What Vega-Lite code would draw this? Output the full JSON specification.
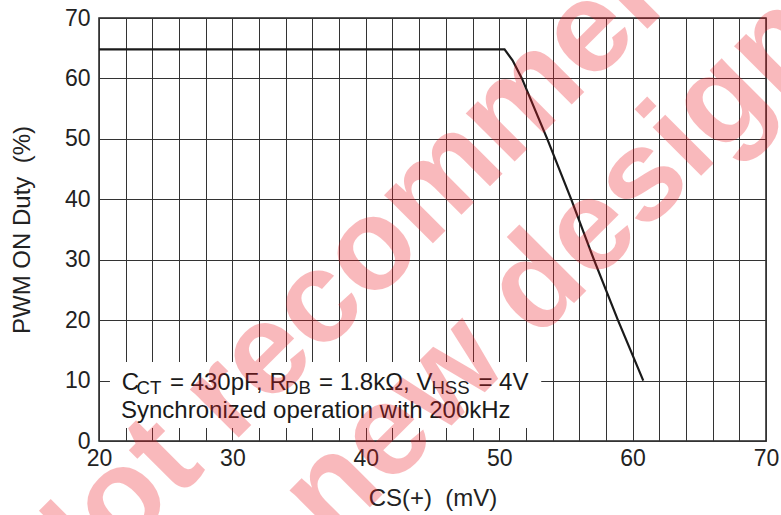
{
  "$schema": "https://vega.github.io/schema/vega-lite/v6.json",
  "width": 667,
  "height": 423,
  "autosize": {"type": "none"},
  "padding": {"left": 99, "top": 18, "right": 15, "bottom": 74},
  "background": "white",
  "config": {
    "font": "Liberation Sans",
    "view": {"stroke": "#222", "strokeWidth": 1.5}
  },
  "datasets": {
    "curve": [
      {"cs": 20, "duty": 64.8},
      {"cs": 50.4, "duty": 64.8},
      {"cs": 51.0, "duty": 63.0},
      {"cs": 51.7, "duty": 60},
      {"cs": 53.6, "duty": 50},
      {"cs": 55.4, "duty": 40},
      {"cs": 57.1, "duty": 30},
      {"cs": 58.9, "duty": 20},
      {"cs": 60.8, "duty": 10}
    ],
    "box": [{"x1": 20.82, "x2": 53.15, "y1": 2.15, "y2": 13.08}],
    "note": [
      {"t": "C", "x": 21.7, "y": 8.44, "part": "main"},
      {"t": "CT", "x": 22.82, "y": 7.86, "part": "sub"},
      {"t": "= 430pF, R", "x": 25.32, "y": 8.44, "part": "main"},
      {"t": "DB", "x": 33.95, "y": 7.86, "part": "sub"},
      {"t": "= 1.8kΩ, V", "x": 36.5, "y": 8.44, "part": "main"},
      {"t": "HSS", "x": 44.92, "y": 7.86, "part": "sub"},
      {"t": "= 4V", "x": 48.44, "y": 8.44, "part": "main"},
      {"t": "Synchronized operation with 200kHz", "x": 21.65, "y": 3.81, "part": "main"}
    ],
    "mark": [
      {"line": "Not recommended for", "x": 16.6, "y": -30.05},
      {"line": "new design", "x": 37.47, "y": -17.22}
    ]
  },
  "layer": [
    {
      "data": {"name": "box"},
      "mark": {"type": "rect", "fill": "white", "stroke": null},
      "encoding": {
        "x": {"field": "x1", "type": "quantitative", "scale": {"domain": [20, 70], "nice": false},
          "axis": {
            "values": [20,22,24,26,28,30,32,34,36,38,40,42,44,46,48,50,52,54,56,58,60,62,64,66,68,70],
            "tickCount": 40,
            "labelExpr": "datum.value % 10 === 0 ? datum.label : ''",
            "labelOverlap": false,
            "title": "CS(+)\u00a0 (mV)",
            "grid": true, "gridColor": "#333", "gridWidth": 1, "gridOpacity": 1,
            "ticks": false, "domain": false,
            "labelFontSize": 23, "labelColor": "#222", "labelPadding": 6, "labelFont": "Liberation Sans",
            "labelFlush": false,
            "titleFontSize": 24, "titleFontWeight": "normal", "titleColor": "#222", "titleFont": "Liberation Sans",
            "titleX": 333.5, "titleY": 64, "titleBaseline": "alphabetic", "titleAlign": "center"
          }},
        "x2": {"field": "x2"},
        "y": {"field": "y1", "type": "quantitative", "scale": {"domain": [0, 70], "nice": false},
          "axis": {
            "values": [0,10,20,30,40,50,60,70],
            "tickCount": 20,
            "labelOverlap": false,
            "title": "PWM ON Duty\u00a0 (%)",
            "grid": true, "gridColor": "#333", "gridWidth": 1, "gridOpacity": 1,
            "ticks": false, "domain": false,
            "labelFontSize": 23, "labelColor": "#222", "labelPadding": 9, "labelFont": "Liberation Sans",
            "labelFlush": false,
            "titleFontSize": 24, "titleFontWeight": "normal", "titleColor": "#222", "titleFont": "Liberation Sans",
            "titleAngle": -90, "titleX": -77, "titleY": 211.5, "titleBaseline": "middle", "titleAlign": "center"
          }},
        "y2": {"field": "y2"}
      }
    },
    {
      "data": {"name": "curve"},
      "mark": {"type": "line", "color": "#1a1a1a", "strokeWidth": 2.2},
      "encoding": {
        "x": {"field": "cs", "type": "quantitative"},
        "y": {"field": "duty", "type": "quantitative"}
      }
    },
    {
      "data": {"name": "note"},
      "transform": [{"filter": "datum.part === 'main'"}],
      "mark": {"type": "text", "align": "left", "baseline": "alphabetic", "color": "#1a1a1a", "font": "Liberation Sans", "fontSize": 24},
      "encoding": {
        "x": {"field": "x", "type": "quantitative"},
        "y": {"field": "y", "type": "quantitative"},
        "text": {"field": "t"}
      }
    },
    {
      "data": {"name": "note"},
      "transform": [{"filter": "datum.part === 'sub'"}],
      "mark": {"type": "text", "align": "left", "baseline": "alphabetic", "color": "#1a1a1a", "font": "Liberation Sans", "fontSize": 18.6},
      "encoding": {
        "x": {"field": "x", "type": "quantitative"},
        "y": {"field": "y", "type": "quantitative"},
        "text": {"field": "t"}
      }
    },
    {
      "data": {"name": "mark"},
      "mark": {"type": "text", "align": "left", "baseline": "alphabetic", "angle": -45, "fontSize": 130, "fontWeight": "bold", "font": "Liberation Sans", "color": "#ee1c25", "opacity": 0.3},
      "encoding": {
        "x": {"field": "x", "type": "quantitative"},
        "y": {"field": "y", "type": "quantitative"},
        "text": {"field": "line"}
      }
    }
  ]
}
